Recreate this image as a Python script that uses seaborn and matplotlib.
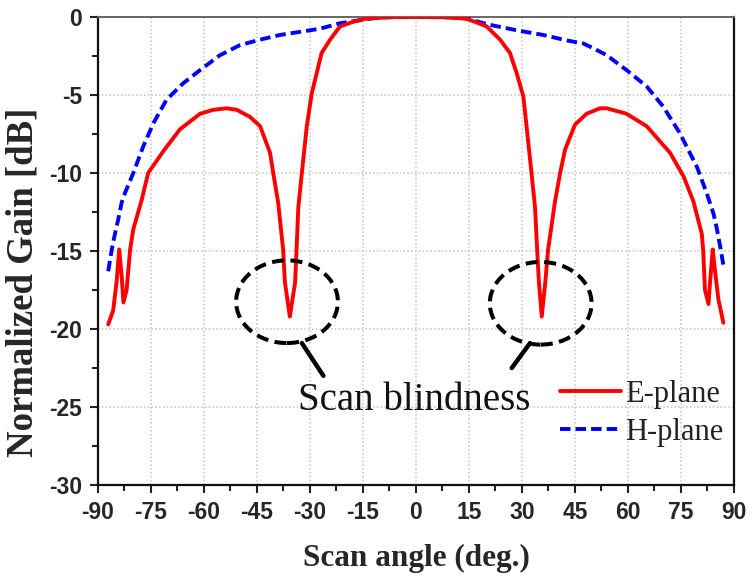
import matplotlib
matplotlib.use("Agg")
import matplotlib.pyplot as plt
from matplotlib.patches import Ellipse
from matplotlib.ticker import MultipleLocator
import seaborn as sns
import pandas as pd

# ---- data ----
e_angle = [-87.1, -85.7, -84.7, -84.0, -83.3, -82.8, -81.9, -80.9, -80.0, -77.6,
           -75.8, -71.5, -66.8, -61.1, -57.4, -53.6, -50.7, -47.0, -44.1, -42.3,
           -41.3, -40.4, -39.0, -37.6, -37.1, -35.7, -34.2, -33.8, -33.3, -32.3,
           -30.9, -29.5, -28.1, -26.7, -24.3, -21.5, -17.7, -14.0, -6.5, 0.0,
           6.5, 14.3, 20.0, 23.8, 26.6, 28.5, 30.4, 31.3, 32.7, 33.7,
           34.3, 34.8, 35.6, 36.6, 37.4, 39.3, 40.8, 42.2, 45.0, 48.3,
           52.1, 54.0, 59.6, 65.3, 71.9, 75.7, 78.5, 80.9, 81.3, 81.8,
           82.8, 83.2, 84.0, 84.6, 85.6, 87.0]
e_gain = [-19.7, -18.8, -16.9, -14.9, -16.6, -18.3, -17.5, -14.9, -13.6, -11.7,
          -10.0, -8.6, -7.2, -6.2, -5.95, -5.85, -5.95, -6.4, -7.0, -8.1,
          -8.7, -10.0, -11.9, -14.9, -17.0, -19.2, -17.0, -14.9, -12.2, -10.0,
          -7.0, -4.9, -3.6, -2.3, -1.45, -0.6, -0.3, -0.1, 0.0, 0.0,
          0.0, -0.1, -0.6, -1.45, -2.3, -3.6, -5.1, -7.0, -10.0, -12.2,
          -14.9, -17.0, -19.2, -17.0, -14.9, -11.9, -10.0, -8.5, -6.9, -6.2,
          -5.85, -5.85, -6.2, -7.0, -8.7, -10.2, -11.8, -13.9, -15.0, -17.5,
          -18.4, -17.1, -14.9, -16.2, -18.1, -19.6]

h_angle = [-87.1, -86.1, -85.2, -84.3, -83.3, -82.4, -80.0, -77.2, -74.3, -70.6,
           -65.9, -61.1, -55.5, -49.8, -44.1, -38.5, -32.8, -27.2, -21.5, -15.8,
           -10.2, 0.0, 10.2, 14.3, 20.9, 28.5, 36.0, 42.7, 47.4, 50.2,
           54.0, 59.6, 65.3, 70.0, 74.7, 79.5, 82.3, 84.2, 85.1, 86.1, 87.0]
h_gain = [-16.3, -14.9, -13.9, -13.0, -11.9, -11.3, -10.0, -8.3, -6.8, -5.3,
          -4.25, -3.4, -2.45, -1.8, -1.45, -1.15, -0.95, -0.75, -0.4, -0.2,
          -0.02, 0.0, -0.02, -0.1, -0.5, -0.85, -1.15, -1.5, -1.7, -2.0,
          -2.45, -3.4, -4.45, -5.75, -7.45, -9.6, -11.3, -12.6, -13.5, -14.7, -15.9]

series_names = ["E-plane", "H-plane"]
x_ticks = [-90, -75, -60, -45, -30, -15, 0, 15, 30, 45, 60, 75, 90]
x_tick_labels = ["-90", "-75", "-60", "-45", "-30", "-15", "0", "15", "30", "45", "60", "75", "90"]
y_ticks = [-30, -25, -20, -15, -10, -5, 0]
y_tick_labels = ["-30", "-25", "-20", "-15", "-10", "-5", "0"]
blind_centers = [(-36.5, -18.25), (35.3, -18.35)]
annotation_text = "Scan blindness"

sns.set_style("white")
plt.rcParams["font.family"] = ["Liberation Sans", "DejaVu Sans"]

fig = plt.figure(figsize=(7.52, 5.81), dpi=100)
ax = fig.add_axes([0.1303, 0.1652, 0.8457, 0.8055])

df_e = pd.DataFrame({"angle": e_angle, "gain": e_gain})
df_h = pd.DataFrame({"angle": h_angle, "gain": h_gain})
sns.lineplot(data=df_e, x="angle", y="gain", ax=ax, color="#ff0000", lw=2.8,
             label=series_names[0], estimator=None, sort=False, zorder=4)
sns.lineplot(data=df_h, x="angle", y="gain", ax=ax, color="#0000ff", lw=2.8,
             label=series_names[1], estimator=None, sort=False, zorder=3,
             dashes=False)
ax.lines[1].set_linestyle((0, (2.7, 1.3)))

ax.set_xlim(-90, 90)
ax.set_ylim(-30, 0)
ax.set_xticks(x_ticks, x_tick_labels)
ax.set_yticks(y_ticks, y_tick_labels)
ax.xaxis.set_minor_locator(MultipleLocator(7.5))
ax.yaxis.set_minor_locator(MultipleLocator(2.5))
ax.tick_params(which="major", direction="out", length=6, width=1.5, color="#222222",
               labelsize=16.5, pad=5.5, bottom=True, left=True)
ax.tick_params(which="minor", direction="out", length=4, width=1.5, color="#222222",
               bottom=True, left=True)
for lab in ax.get_xticklabels() + ax.get_yticklabels():
    lab.set_fontweight("bold")

ax.grid(True, which="major", color="#c4c4c4", linestyle=(0, (1, 1.5)), lw=1.1)
ax.set_axisbelow(True)
for side in ["left", "bottom", "right"]:
    ax.spines[side].set_color("#111111")
    ax.spines[side].set_linewidth(1.6)
ax.spines["top"].set_color("#666666")
ax.spines["top"].set_linewidth(1.4)

ax.set_xlabel("Scan angle (deg.)", fontfamily="Liberation Serif", fontweight="bold",
              fontsize=22.5, labelpad=14)
ax.set_ylabel("Normalized Gain [dB]", fontfamily="Liberation Serif", fontweight="bold",
              fontsize=26.5)
ax.yaxis.set_label_coords(-0.091, 0.434)

# annotations
for (cx, cy) in blind_centers:
    ax.add_patch(Ellipse((cx, cy), width=28.8, height=5.3, fill=False, ec="black",
                         lw=2.9, linestyle=(0, (3.0, 1.6)), zorder=5))
ax.annotate("", xy=(-32.3, -20.9), xytext=(-26.2, -23.0),
            arrowprops=dict(arrowstyle="-", lw=3.2, color="black", shrinkA=0, shrinkB=0))
ax.annotate("", xy=(32.3, -20.9), xytext=(27.1, -22.5),
            arrowprops=dict(arrowstyle="-", lw=3.2, color="black", shrinkA=0, shrinkB=0))
ax.text(-0.5, -25.19, annotation_text, ha="center", va="baseline",
        fontfamily="Liberation Serif", fontsize=28, color="#111111")

leg = ax.legend(loc="lower left", bbox_to_anchor=(0.726, 0.081), frameon=False,
                borderpad=0, borderaxespad=0, handlelength=2.0, handletextpad=0.15,
                labelspacing=0.3, prop={"family": "Liberation Serif", "size": 22})
for t in leg.get_texts():
    t.set_color("#222222")

fig.savefig("out.png", dpi=100)
